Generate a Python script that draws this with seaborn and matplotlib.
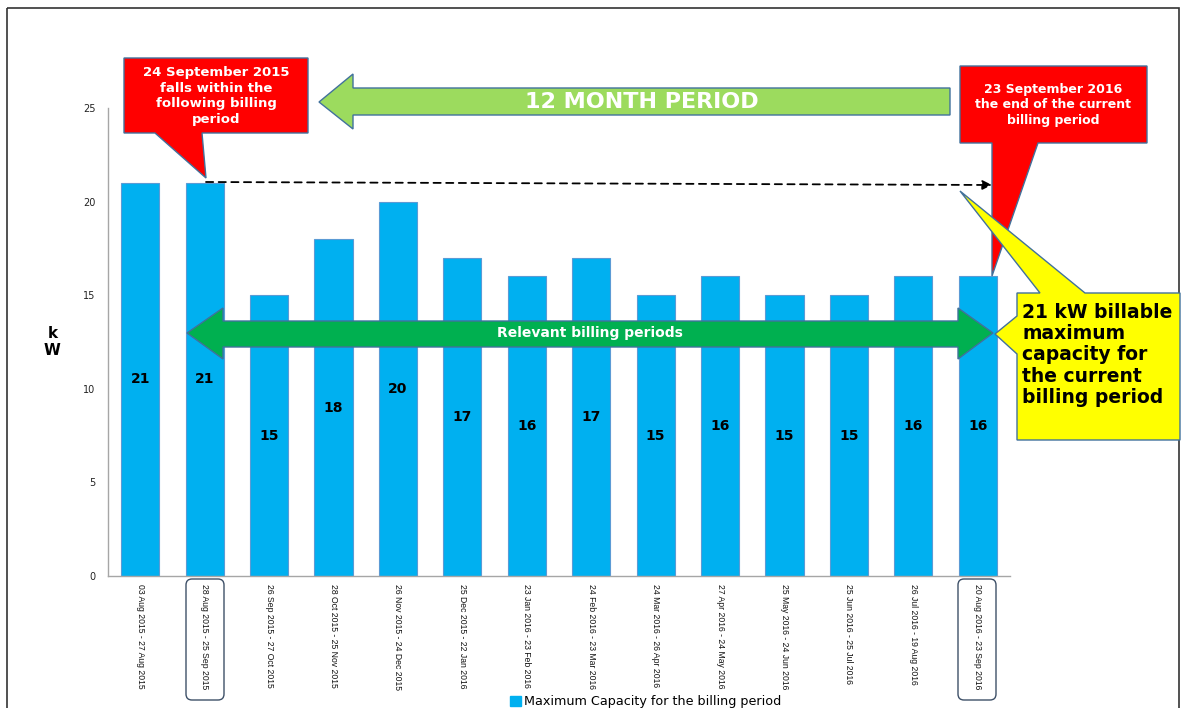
import matplotlib
matplotlib.use("Agg")
import matplotlib.pyplot as plt
import matplotlib.patches as mpatches
import matplotlib.transforms as mtransforms
import pandas as pd
import seaborn as sns

periods = [
    "03 Aug 2015 - 27 Aug 2015", "28 Aug 2015 - 25 Sep 2015", "26 Sep 2015 - 27 Oct 2015",
    "28 Oct 2015 - 25 Nov 2015", "26 Nov 2015 - 24 Dec 2015", "25 Dec 2015 - 22 Jan 2016",
    "23 Jan 2016 - 23 Feb 2016", "24 Feb 2016 - 23 Mar 2016", "24 Mar 2016 - 26 Apr 2016",
    "27 Apr 2016 - 24 May 2016", "25 May 2016 - 24 Jun 2016", "25 Jun 2016 - 25 Jul 2016",
    "26 Jul 2016 - 19 Aug 2016", "20 Aug 2016 - 23 Sep 2016",
]
max_kw = [21, 21, 15, 18, 20, 17, 16, 17, 15, 16, 15, 15, 16, 16]
yticks = [0, 5, 10, 15, 20, 25]
legend_label = "Maximum Capacity for the billing period"

W, H = 1188, 708
BAR = "#00B0F0"
EDGE = "#41719C"

sns.set_style("white")
plt.rcParams["font.family"] = ["DejaVu Sans"]

fig = plt.figure(figsize=(W / 100, H / 100), dpi=100)
ax = fig.add_axes([108 / W, 1 - 576 / H, (1010 - 108) / W, (576 - 108) / H])

df = pd.DataFrame({"period": periods, "kw": max_kw})
sns.barplot(data=df, x="period", y="kw", order=periods, color=BAR, saturation=1,
            width=0.59, edgecolor="#5B9BD5", linewidth=0.8, ax=ax)
ax.bar_label(ax.containers[0], label_type="center", fontsize=10, fontweight="bold",
             color="black")

ax.set_xlim(-0.5, 13.5)
ax.set_ylim(0, 25)
ax.set_yticks(yticks)
ax.set_xlabel("")
ax.set_ylabel("k\nW", rotation=0, fontsize=11, fontweight="bold", labelpad=22, va="center",
              color="black")
ax.tick_params(axis="y", length=0, pad=9, labelsize=7, labelcolor="#222222")
ax.tick_params(axis="x", length=0, pad=6, labelcolor="#111111")
ax.set_xticks(range(len(periods)))
ax.set_xticklabels(periods, rotation=270, va="top", ha="center", fontsize=6.2,
                   family=["Liberation Sans", "DejaVu Sans"])
for s in ["top", "right"]:
    ax.spines[s].set_visible(False)
for s in ["left", "bottom"]:
    ax.spines[s].set_color("#A6A6A6")
    ax.spines[s].set_linewidth(1)

handle = mpatches.Patch(facecolor=BAR, edgecolor=BAR)
fig.legend([handle], [legend_label], loc="center", bbox_to_anchor=(646 / W, 1 - 702 / H),
           frameon=False, fontsize=9.2, handlelength=0.8, handleheight=0.8, handletextpad=0.3,
           labelcolor="black")

# pixel coordinates, y measured downward from top
pix = mtransforms.Affine2D().scale(1 / W, -1 / H).translate(0, 1) + fig.transFigure


def shape(points, face, z):
    fig.add_artist(mpatches.Polygon(points, closed=True, facecolor=face, edgecolor=EDGE,
                                    linewidth=1, transform=pix, zorder=z))


def label(x, y, s, size, color="white", **kw):
    fig.text(x, y, s, transform=pix, fontsize=size, fontweight="bold", color=color,
             ha=kw.pop("ha", "center"), va="center", zorder=10, **kw)


# outer frame
fig.add_artist(mpatches.Rectangle((7, 8), 1172, 720, fill=False, edgecolor="#333333",
                                  linewidth=1.2, transform=pix, zorder=1))

# rounded boxes around the first and last relevant periods
for x0 in (186, 958):
    fig.add_artist(mpatches.FancyBboxPatch((x0, 579), 38, 121,
                                           boxstyle="round,pad=0,rounding_size=6",
                                           facecolor="none", edgecolor="#3E5068",
                                           linewidth=1, transform=pix, zorder=2))

# 12 month period arrow
shape([(319, 102), (353, 74), (353, 88), (950, 88), (950, 115), (353, 115), (353, 129)],
      "#9CDB5E", 3)
label(642, 102, "12 MONTH PERIOD", 16)

# red callouts
shape([(124, 58), (308, 58), (308, 133), (202, 133), (206, 178), (155, 133), (124, 133)],
      "#FF0000", 3)
label(216, 96, "24 September 2015\nfalls within the\nfollowing billing\nperiod", 9.5,
      linespacing=1.25)
shape([(960, 66), (1147, 66), (1147, 143), (1038, 143), (992, 276), (992, 143), (960, 143)],
      "#FF0000", 3)
label(1053, 105, "23 September 2016\nthe end of the current\nbilling period", 9,
      linespacing=1.25)

# yellow callout
shape([(1017, 293), (1040, 293), (960, 191), (1085, 293), (1180, 293), (1180, 440),
       (1017, 440), (1017, 354), (995, 334), (1017, 316)], "#FFFF00", 4)
label(1022, 355, "21 kW billable\nmaximum\ncapacity for\nthe current\nbilling period", 13.5,
      color="black", ha="left", linespacing=1.15)

# relevant billing periods double arrow
shape([(187, 333), (223, 308), (223, 321), (958, 321), (958, 308), (993, 333), (958, 359),
       (958, 347), (223, 347), (223, 359)], "#00B050", 5)
label(590, 333, "Relevant billing periods", 10)

# dashed pointer
ax.annotate("", xy=(992, 185), xytext=(206, 182), xycoords=pix, textcoords=pix,
            arrowprops=dict(arrowstyle="-|>", color="black", linestyle=(0, (4, 3)),
                            linewidth=1.3, mutation_scale=14, shrinkA=0, shrinkB=0),
            annotation_clip=False, zorder=6)

fig.savefig("out.png", dpi=100)
